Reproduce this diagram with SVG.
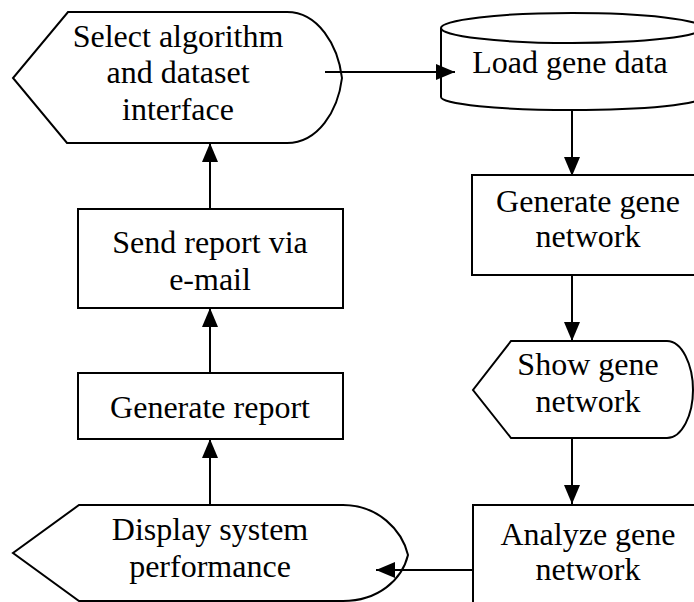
<svg xmlns="http://www.w3.org/2000/svg" width="694" height="602" viewBox="0 0 694 602">
<style>
.s{fill:#fff;stroke:#000;stroke-width:2}
.t{font-family:"Liberation Serif","Times New Roman",serif;font-size:32px;fill:#000;text-anchor:middle}
.c{stroke:#000;stroke-width:2;fill:none}
</style>
<defs>
<marker id="ah" markerUnits="userSpaceOnUse" markerWidth="20" markerHeight="18" refX="19" refY="8" orient="auto">
<path d="M0,0 L19,8 L0,16 Z" fill="#000"/>
</marker>
</defs>
<rect width="694" height="602" fill="#fff"/>
<g id="select">
<path class="s" d="M68,12 L287,12 C318,12 338,45 342,78 C338,111 318,143 287,143 L67,143 L13,78 Z"/>
<text class="t" x="178" y="47">Select algorithm</text>
<text class="t" x="178" y="83">and dataset</text>
<text class="t" x="178" y="120">interface</text>
</g>
<g id="load">
<path class="s" d="M441,28 L441,97 A131,13 0 0,0 703,97 L703,28"/>
<ellipse class="s" cx="572" cy="28" rx="131" ry="15"/>
<text class="t" x="570" y="73">Load gene data</text>
</g>
<g id="generate-network">
<rect class="s" x="472" y="175" width="240" height="100"/>
<text class="t" x="588" y="212">Generate gene</text>
<text class="t" x="588" y="247">network</text>
</g>
<g id="show">
<path class="s" d="M511,341 L667,341 C682,341 693,365 693,390 C693,415 682,438 667,438 L511,438 L473,390 Z"/>
<text class="t" x="588" y="375">Show gene</text>
<text class="t" x="588" y="412">network</text>
</g>
<g id="analyze">
<rect class="s" x="473" y="505" width="240" height="110"/>
<text class="t" x="588" y="545">Analyze gene</text>
<text class="t" x="588" y="580">network</text>
</g>
<g id="display">
<path class="s" d="M79,505 L343,505 C378,505 402,530 408,555 C402,580 378,601 343,601 L79,601 L13,553 Z"/>
<text class="t" x="210" y="540">Display system</text>
<text class="t" x="210" y="577">performance</text>
</g>
<g id="report">
<rect class="s" x="78" y="373" width="265" height="66"/>
<text class="t" x="210" y="418">Generate report</text>
</g>
<g id="send">
<rect class="s" x="78" y="209" width="265" height="99"/>
<text class="t" x="210" y="253">Send report via</text>
<text class="t" x="210" y="290">e-mail</text>
</g>
<g id="connectors">
<line class="c" x1="325" y1="72" x2="455" y2="72" marker-end="url(#ah)"/>
<line class="c" x1="572" y1="110" x2="572" y2="176" marker-end="url(#ah)"/>
<line class="c" x1="572" y1="275" x2="572" y2="341" marker-end="url(#ah)"/>
<line class="c" x1="572" y1="438" x2="572" y2="504" marker-end="url(#ah)"/>
<line class="c" x1="473" y1="570" x2="376" y2="570" marker-end="url(#ah)"/>
<line class="c" x1="210" y1="505" x2="210" y2="439" marker-end="url(#ah)"/>
<line class="c" x1="210" y1="373" x2="210" y2="308" marker-end="url(#ah)"/>
<line class="c" x1="210" y1="209" x2="210" y2="143" marker-end="url(#ah)"/>
</g>
</svg>
